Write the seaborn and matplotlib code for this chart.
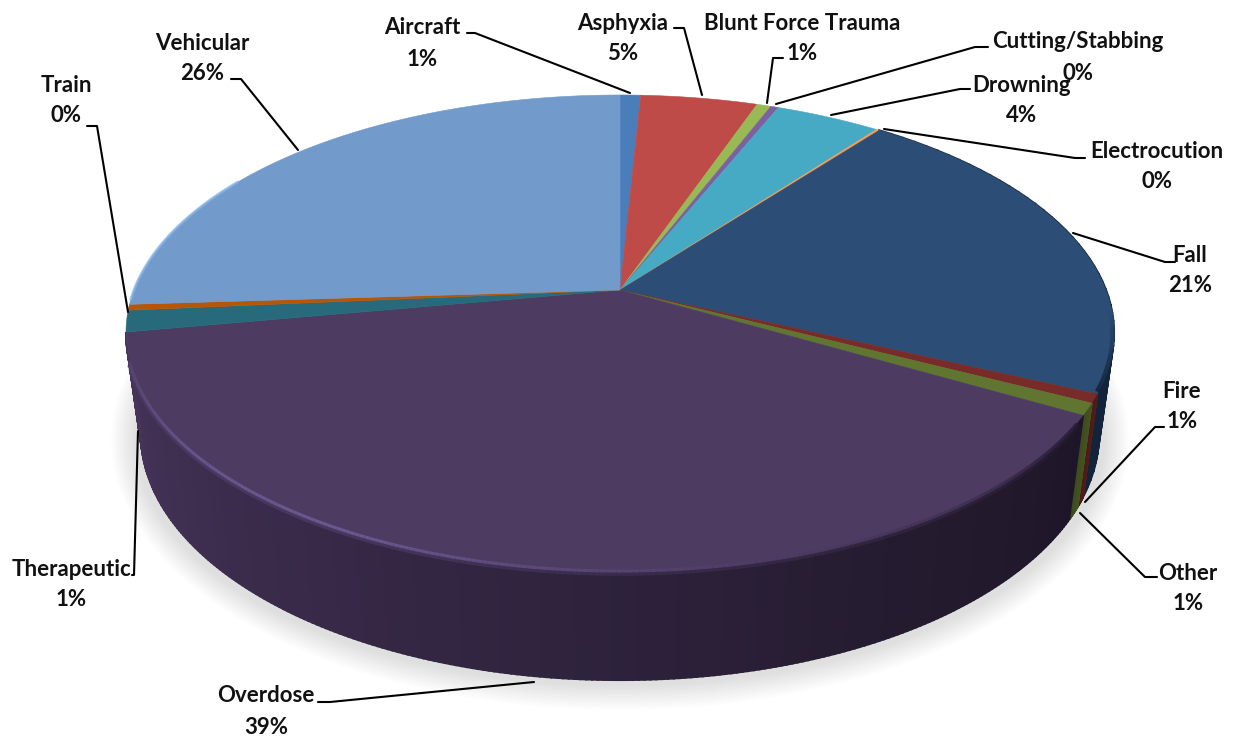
import numpy as np
import matplotlib
matplotlib.use('Agg')
import matplotlib.pyplot as plt
import seaborn as sns

# =============================
# Data
# =============================
categories = ['Aircraft', 'Asphyxia', 'Blunt Force Trauma', 'Cutting/Stabbing', 'Drowning',
              'Electrocution', 'Fall', 'Fire', 'Other', 'Overdose', 'Therapeutic', 'Train', 'Vehicular']
shares = [0.8, 4.55, 0.55, 0.3, 4.1, 0.12, 21.45, 0.6, 0.8, 38.9, 1.45, 0.4, 25.98]
pct_labels = ['1%', '5%', '1%', '0%', '4%', '0%', '21%', '1%', '1%', '39%', '1%', '0%', '26%']
top_colors = ['#4a7ebb', '#be4b48', '#98b954', '#7d60a0', '#46aac4', '#f59d56', '#2c4d75',
              '#772c2a', '#5f7530', '#4d3b62', '#276a7c', '#b65708', '#729aca']

# label centre (x, y of the name line) and leader line, in pixels
label_pos = [(422, 28), (623, 23), (802, 23), (1078, 42), (1022, 85), (1157, 151), (1190, 255),
             (1182, 391), (1188, 573), (266, 696), (71, 569), (66, 85), (202, 43)]
leaders = [
    [(467, 33), (475, 33), (630, 93)],
    [(674, 28), (684, 28), (702, 95)],
    [(783, 58), (773, 58), (767, 103)],
    [(776, 104), (975, 47), (988, 47)],
    [(831, 115), (960, 89), (970, 89)],
    [(884, 129), (1075, 158), (1085, 158)],
    [(1073, 233), (1165, 262), (1175, 262)],
    [(1085, 502), (1155, 427), (1164, 427)],
    [(1080, 513), (1145, 577), (1157, 577)],
    [(534, 682), (330, 702), (318, 702)],
    [(138, 431), (134, 575), (132, 575)],
    [(231, 79), (241, 79), (298, 150)],
    [(87, 126), (97, 126), (128, 312)],
]

# =============================
# Projection of the disc
# =============================
CX, APEX_Y = 620, 290
A, B, K = 486, 229.9, 0.179
ELL_Y, ELL_A, ELL_B = 332.5, 494, 238
BOT_Y, BOT_A, BOT_B = 434, 479, 246


def top_point(theta):
    u, v = np.sin(theta), np.cos(theta)
    return CX + A * u / (1 + K * v), APEX_Y - B * v / (1 + K * v)


def bottom_point(theta):
    x, y = top_point(theta)
    phi = np.arctan2((y - ELL_Y) / ELL_B, (x - CX) / ELL_A)
    return CX + BOT_A * np.cos(phi), BOT_Y + BOT_B * np.sin(phi)


sns.set_theme(style='white')
plt.rcParams['font.family'] = ['Lato', 'DejaVu Sans']

fig = plt.figure(figsize=(12.38, 7.38), dpi=100)
ax = fig.add_axes([0, 0, 1, 1])
ax.set_xlim(0, 1238)
ax.set_ylim(738, 0)
ax.axis('off')

# =============================
# Soft shadow
# =============================
t = np.linspace(0, 2 * np.pi, 300)
for i in range(16):
    grow = 24 - i * 1.6
    ax.fill(CX + (BOT_A + grow + 6) * np.cos(t), BOT_Y + 6 + (BOT_B + grow) * np.sin(t),
            color='#000000', alpha=0.009, lw=0, zorder=1)

# =============================
# Slices
# =============================
fractions = np.array(shares) / np.sum(shares)
edges = np.concatenate([[0], np.cumsum(fractions)]) * 2 * np.pi

side_shades = {
    'Fall': sns.blend_palette(['#1d3756', '#12233a', '#12233a'], 40),
    'Fire': sns.blend_palette(['#551d1c', '#4a1a19'], 40),
    'Other': sns.blend_palette(['#45551f', '#3d4c1e'], 40),
    'Overdose': sns.blend_palette(['#1e1628', '#261c31', '#30243f', '#3b2c4c', '#46345a'], 240),
}

# side wall first
for name, start, end in zip(categories, edges[:-1], edges[1:]):
    if name not in side_shades:
        continue
    shades = side_shades[name]
    steps = np.linspace(start, end, len(shades) + 1)
    for j, col in enumerate(shades):
        th = np.linspace(steps[j], steps[j + 1], 4)
        tx, ty = top_point(th)
        bx, by = bottom_point(th)
        ax.fill(np.r_[tx, bx[::-1]], np.r_[ty, by[::-1]], color=col, lw=1.5, zorder=2)

# top face
for col, start, end in zip(top_colors, edges[:-1], edges[1:]):
    th = np.linspace(start, end, max(int((end - start) * 180), 4))
    x, y = top_point(th)
    ax.fill(np.r_[CX, x], np.r_[APEX_Y, y], color=col, lw=0.4, zorder=3)

# bevel along the rim
i_over = categories.index('Overdose')
th = np.linspace(edges[i_over] + 0.03, edges[i_over + 1] - 0.12, 240)
x, y = top_point(th)
rim = sns.blend_palette(['#2a1f38', '#453459', '#4f3d66', '#5d4a7c', '#6d5a94', '#6a5690', '#57446f'], 239)
for j in range(239):
    ax.plot(x[j:j + 2], y[j:j + 2] + 3, color=rim[j], lw=4, alpha=0.3, solid_capstyle='butt', zorder=4)
    ax.plot(x[j:j + 2], y[j:j + 2] + 1, color=rim[j], lw=2.2, alpha=0.95, solid_capstyle='butt', zorder=4)

i_veh = categories.index('Vehicular')
th = np.linspace(edges[i_veh] + 0.02, edges[i_veh] + 0.6, 60)
x, y = top_point(th)
ax.plot(x, y, color='#86b4e8', lw=2, alpha=0.7, zorder=4)

# fall slice darkens towards its outer edge
i_fall = categories.index('Fall')
th = np.linspace(edges[i_fall] + 1.0, edges[i_fall + 1] - 0.01, 80)
x, y = top_point(th)
fall_rim = sns.blend_palette(['#2c4d75', '#1d3756', '#12233a'], 79)
for j in range(79):
    ax.plot(x[j:j + 2] - 1.5, y[j:j + 2], color=fall_rim[j], lw=3, solid_capstyle='butt', zorder=4)

# =============================
# Labels
# =============================
for name, pct, (lx, ly), line in zip(categories, pct_labels, label_pos, leaders):
    ax.text(lx, ly, name, ha='center', va='center', fontsize=16, fontweight='bold', color='#111111', zorder=6)
    ax.text(lx, ly + 31, pct, ha='center', va='center', fontsize=16, fontweight='bold', color='#111111', zorder=6)
    ax.plot([p[0] for p in line], [p[1] for p in line], color='black', lw=1.5, zorder=5)

fig.savefig('out.png', dpi=100, facecolor='white')
